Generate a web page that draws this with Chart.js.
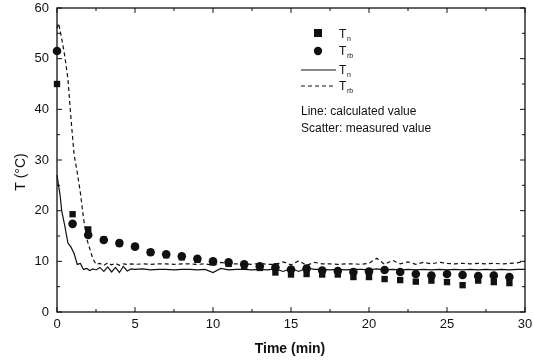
<!DOCTYPE html>
<html>
<head>
<meta charset="utf-8">
<script src="https://cdn.jsdelivr.net/npm/chart.js@4"></script>
<style>
  html, body { margin: 0; padding: 0; background: #fff; }
  #wrap { width: 534px; height: 360px; position: relative; }
</style>
</head>
<body>
<div id="wrap"><canvas id="chart"></canvas></div>
<script>
// measured values (scatter), one per minute
const measuredTime = [0, 1, 2, 3, 4, 5, 6, 7, 8, 9, 10, 11, 12, 13, 14, 15, 16, 17, 18, 19, 20, 21, 22, 23, 24, 25, 26, 27, 28, 29];
const tnMeasured = [45, 19.3, 16.3, 14.3, 13.6, 12.9, 11.8, 11.2, 10.8, 10.3, 9.8, 9.5, 9.1, 8.7, 7.8, 7.4, 7.5, 7.4, 7.4, 6.9, 6.9, 6.5, 6.3, 6.0, 6.2, 5.9, 5.3, 6.2, 5.9, 5.7];
const trbMeasured = [51.5, 17.4, 15.2, 14.2, 13.6, 12.9, 11.8, 11.4, 11, 10.5, 10, 9.8, 9.4, 9.0, 8.8, 8.4, 8.6, 8.2, 8.1, 7.9, 8.0, 8.3, 7.9, 7.5, 7.2, 7.5, 7.3, 7.1, 7.2, 6.9];

// calculated values (lines)
const calcTime = [0, 0.1, 0.2, 0.3, 0.5, 0.7, 0.9, 1.1, 1.3, 1.5, 1.7, 1.9, 2.1, 2.3, 2.5,
  2.75, 3, 3.25, 3.5, 3.75, 4, 4.25, 4.5, 4.75, 5,
  5.5, 6, 6.5, 7, 7.5, 8, 8.5, 9, 9.5, 10, 10.5, 11, 11.5, 12, 12.5, 13, 13.5, 14, 14.5, 15,
  15.5, 16, 16.5, 17, 17.5, 18, 18.5, 19, 19.5, 20, 20.5, 21, 21.5, 22, 22.5, 23, 23.5, 24,
  24.5, 25, 25.5, 26, 26.5, 27, 27.5, 28, 28.5, 29, 29.5, 30];
const tnCalc = [27, 25, 23, 20, 17, 13.6, 12.8, 11.5, 9.4, 9.6, 8.4, 8.6, 8.2, 8.5, 8.3,
  8.8, 8.0, 8.9, 7.9, 8.8, 7.8, 9.0, 8.1, 8.5, 8.4,
  8.5, 8.3, 8.4, 8.4, 8.3, 8.4, 8.4, 8.3, 8.4, 7.8, 8.6, 8.3, 8.4, 8.4, 8.3, 8.4, 8.3, 8.5, 8.0, 8.6,
  8.0, 8.7, 8.4, 8.4, 8.3, 8.4, 8.3, 8.4, 8.4, 8.3, 8.5, 8.3, 8.4, 8.3, 8.4, 8.3, 8.4, 8.3,
  8.4, 8.3, 8.4, 8.3, 8.4, 8.3, 8.4, 8.3, 8.4, 8.3, 8.4, 8.4];
const trbCalc = [56, 57, 55.5, 54, 50.5, 46, 38, 31, 27.5, 23.5, 18.5, 14.5, 12.5, 10.5, 9.4,
  9.6, 9.2, 9.7, 9.3, 9.6, 9.2, 9.5, 9.4, 9.5, 9.4,
  9.5, 9.4, 9.5, 9.5, 9.4, 9.5, 9.5, 9.4, 9.5, 9.2, 9.8, 9.5, 9.5, 9.5, 9.4, 9.6, 9.4, 9.4, 9.9, 9.3,
  10.1, 9.2, 9.8, 9.5, 9.5, 9.4, 9.5, 9.5, 9.4, 9.6, 10.6, 9.4, 10.2, 9.5, 9.9, 9.4, 9.8, 9.5,
  9.8, 9.6, 9.5, 9.6, 9.5, 9.6, 9.5, 9.6, 9.5, 9.6, 9.7, 10];

const xTicks = [0, 5, 10, 15, 20, 25, 30];
const yTicks = [0, 10, 20, 30, 40, 50, 60];

const FONT = '"Liberation Sans", Arial, sans-serif';

function pts(xs, ys) {
  return xs.map((x, i) => ({ x: x, y: ys[i] }));
}

// frame, inward ticks, tick labels, axis titles and the legend box
const decorations = {
  id: 'decorations',
  afterDraw(chart) {
    const c = chart.ctx;
    const a = chart.chartArea;
    const xs = chart.scales.x, ys = chart.scales.y;
    c.save();
    c.strokeStyle = '#111';
    c.fillStyle = '#111';
    c.lineWidth = 1.3;
    c.strokeRect(a.left, a.top, a.right - a.left, a.bottom - a.top);

    c.lineWidth = 1;
    for (let v = 0; v <= 30; v += 2.5) {
      const px = xs.getPixelForValue(v);
      const len = v % 5 === 0 ? 5 : 3;
      c.beginPath();
      c.moveTo(px, a.bottom); c.lineTo(px, a.bottom - len);
      c.moveTo(px, a.top); c.lineTo(px, a.top + len);
      c.stroke();
    }
    for (let v = 0; v <= 60; v += 5) {
      const py = ys.getPixelForValue(v);
      const len = v % 10 === 0 ? 5 : 3;
      c.beginPath();
      c.moveTo(a.left, py); c.lineTo(a.left + len, py);
      c.moveTo(a.right, py); c.lineTo(a.right - len, py);
      c.stroke();
    }

    // tick labels
    c.font = '13px ' + FONT;
    c.textAlign = 'center';
    c.textBaseline = 'top';
    xTicks.forEach(v => c.fillText(String(v), xs.getPixelForValue(v), a.bottom + 6));
    c.textAlign = 'right';
    c.textBaseline = 'middle';
    yTicks.forEach(v => c.fillText(String(v), a.left - 8, ys.getPixelForValue(v)));

    // axis titles
    c.font = 'bold 14px ' + FONT;
    c.textAlign = 'center';
    c.fillText('Time (min)', 290, 349);
    c.save();
    c.translate(21, 172);
    c.rotate(-Math.PI / 2);
    c.font = '14px ' + FONT;
    c.fillText('T (\u00B0C)', 0, 0);
    c.restore();

    // legend
    c.textAlign = 'left';
    c.textBaseline = 'alphabetic';
    function sym(x, y, sub) {
      c.font = '12px ' + FONT;
      c.fillText('T', x, y);
      c.font = '7px ' + FONT;
      c.fillText(sub, x + 8, y + 3);
    }
    c.fillRect(314, 29, 8, 8);
    sym(339, 38, 'n');
    c.beginPath();
    c.arc(318, 51, 4.2, 0, Math.PI * 2);
    c.fill();
    sym(339, 55, 'rb');
    c.beginPath();
    c.moveTo(301, 70); c.lineTo(336, 70);
    c.stroke();
    sym(339, 74, 'n');
    c.setLineDash([4, 3]);
    c.beginPath();
    c.moveTo(301, 86); c.lineTo(336, 86);
    c.stroke();
    c.setLineDash([]);
    sym(339, 90, 'rb');
    c.font = '12px ' + FONT;
    c.fillText('Line: calculated value', 301, 115);
    c.fillText('Scatter: measured value', 301, 132);
    c.restore();
  }
};

new Chart(document.getElementById('chart'), {
  type: 'scatter',
  data: {
    datasets: [
      {
        label: 'Tn measured',
        data: pts(measuredTime, tnMeasured),
        pointStyle: 'rect',
        pointRadius: 4.5,
        backgroundColor: '#111',
        borderColor: '#111',
        borderWidth: 0
      },
      {
        label: 'Trb measured',
        data: pts(measuredTime, trbMeasured),
        pointStyle: 'circle',
        pointRadius: 4.3,
        backgroundColor: '#111',
        borderColor: '#111',
        borderWidth: 0
      },
      {
        label: 'Tn calculated',
        data: pts(calcTime, tnCalc),
        showLine: true,
        pointRadius: 0,
        borderColor: '#111',
        borderWidth: 1.2,
        tension: 0
      },
      {
        label: 'Trb calculated',
        data: pts(calcTime, trbCalc),
        showLine: true,
        pointRadius: 0,
        borderColor: '#111',
        borderWidth: 1.2,
        borderDash: [4, 3],
        tension: 0
      }
    ]
  },
  options: {
    responsive: true,
    maintainAspectRatio: false,
    animation: false,
    clip: false,
    layout: { padding: { top: 8, right: 9, left: 0, bottom: 0 } },
    plugins: {
      legend: { display: false },
      tooltip: { enabled: false }
    },
    scales: {
      x: {
        type: 'linear',
        min: 0,
        max: 30,
        afterFit: s => { s.height = 48; },
        grid: { display: false, drawTicks: false },
        border: { display: false },
        ticks: { display: false }
      },
      y: {
        type: 'linear',
        min: 0,
        max: 60,
        afterFit: s => { s.width = 57; },
        grid: { display: false, drawTicks: false },
        border: { display: false },
        ticks: { display: false }
      }
    }
  },
  plugins: [decorations]
});
</script>
</body>
</html>
